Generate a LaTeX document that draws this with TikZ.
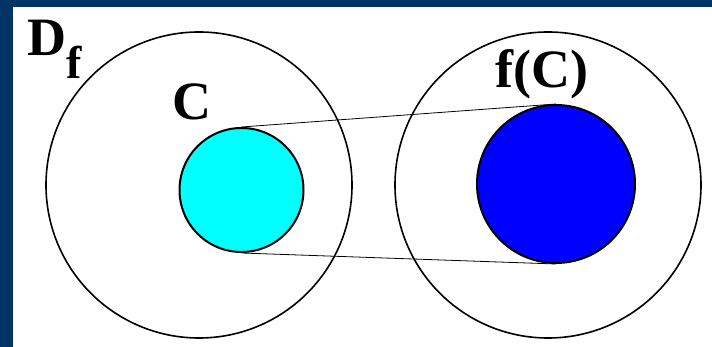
\documentclass[tikz,border=0pt]{standalone}
\usepackage{fontspec}
\setmainfont{Liberation Serif}
\usetikzlibrary{positioning}
\definecolor{slideblue}{RGB}{0,51,102}
\definecolor{setcyan}{RGB}{0,255,255}
\definecolor{setblue}{RGB}{0,0,255}

\begin{document}
\begin{tikzpicture}[x=1pt,y=1pt,
    set/.style={circle, draw, line width=1.6pt, inner sep=0pt},
    lbl/.style={font=\fontsize{54}{54}\selectfont\bfseries, inner sep=0pt, anchor=base west}]
  \useasboundingbox (0,0) rectangle (712,347);
  \fill[slideblue] (0,0) rectangle (712,347);
  \fill[white] (13,0) rectangle (712,340);
  % the two domains
  \node[set, minimum size=306pt] (domain) at (199,162) {};
  \node[set, minimum size=306pt] (range) at (548,162) {};
  % the set and its image
  \node[set, fill=setcyan, line width=2pt, minimum size=124pt] (setC) at (241.5,157) {};
  \node[set, fill=setblue, line width=2pt, minimum size=158pt] (setFC) at (556,163) {};
  \draw[line width=0.8pt] (setC.north) -- (setFC.north);
  \draw[line width=0.8pt] (setC.south) -- (setFC.south);
  % labels
  \node[lbl] (labelD) at (27,291) {D\raisebox{-23pt}{\fontsize{46}{46}\selectfont f}};
  \node[lbl] (labelC) at (172,227) {C};
  \node[lbl] (labelFC) at (495,259) {f(C)};
\end{tikzpicture}
\end{document}
